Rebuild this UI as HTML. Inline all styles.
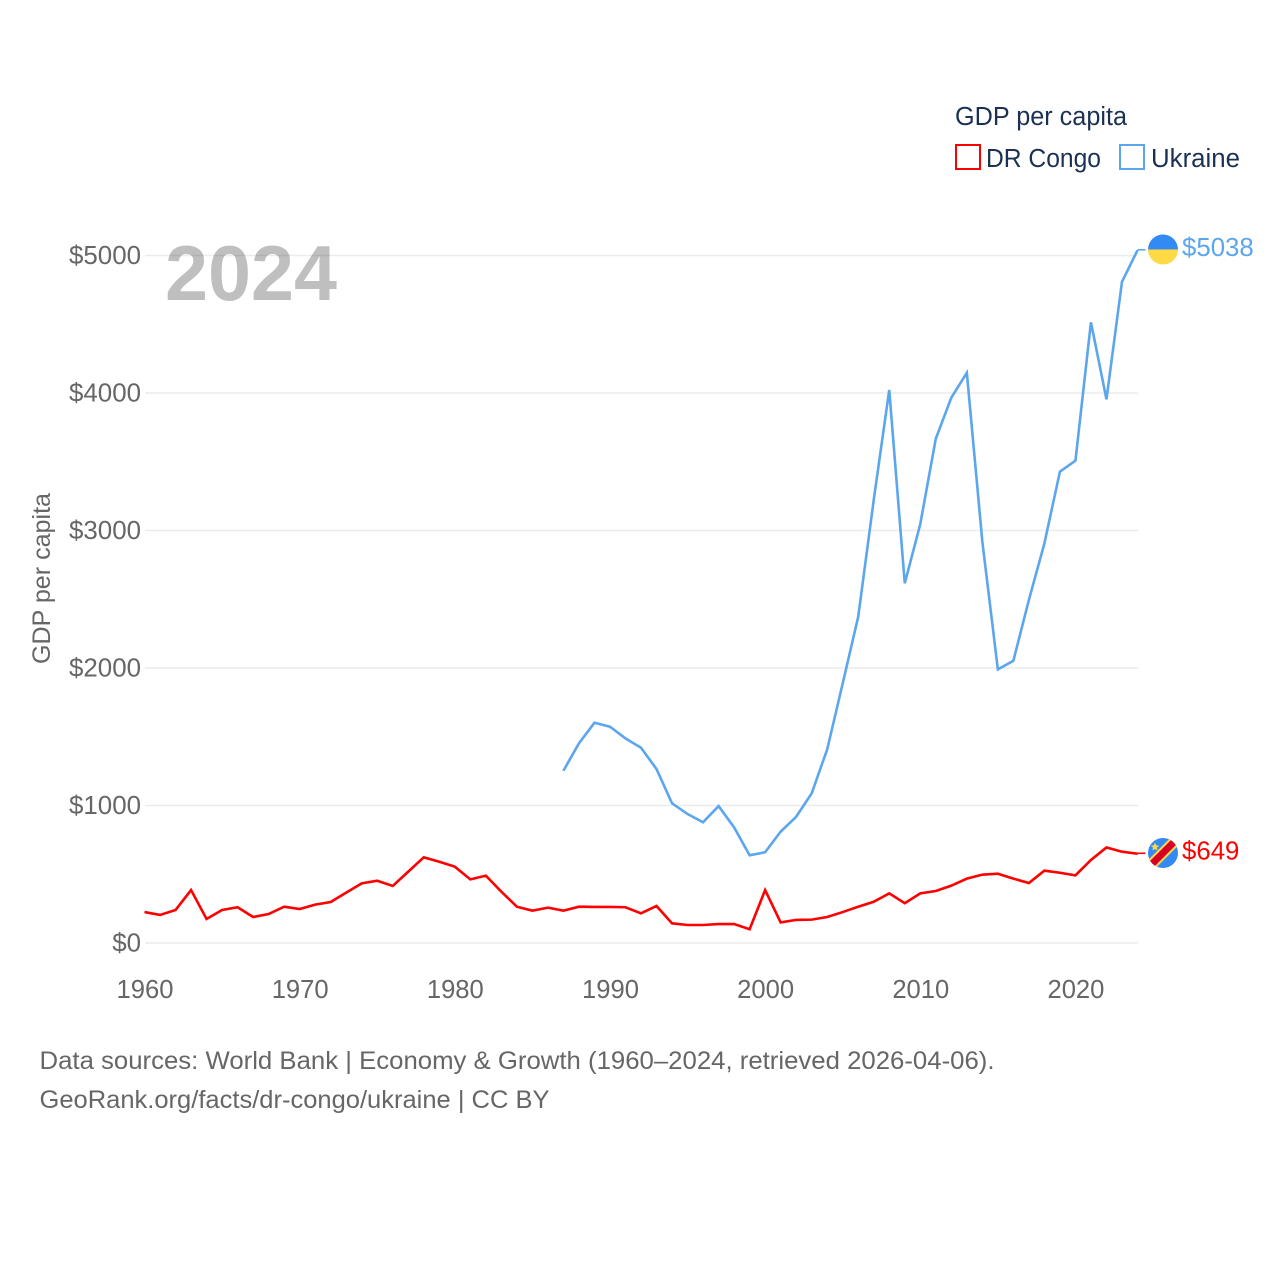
<!DOCTYPE html>
<html lang="en">
<head>
<meta charset="utf-8">
<title>GDP per capita: DR Congo and Ukraine</title>
<style>
html,body{margin:0;padding:0;background:#fff;}
svg{display:block;font-family:"Liberation Sans",Arial,sans-serif;}
</style>
</head>
<body>
<svg id="chart" xmlns="http://www.w3.org/2000/svg" width="1280" height="1280" viewBox="0 0 1280 1280">
  <defs>
    <clipPath id="ua-clip"><circle cx="0" cy="0" r="15"/></clipPath>
    <clipPath id="cd-clip"><circle cx="0" cy="0" r="15"/></clipPath>
  </defs>
  <rect width="1280" height="1280" fill="#fff"/>
  <g id="grid"></g>
  <text x="165" y="300" font-size="78" font-weight="700" fill="#000" fill-opacity="0.25" textLength="172" lengthAdjust="spacingAndGlyphs">2024</text>
  <g id="y-ticks"></g>
  <g id="x-ticks"></g>
  <text transform="translate(50 664) rotate(-90)" font-size="25" fill="#666" textLength="171" lengthAdjust="spacingAndGlyphs">GDP per capita</text>
  <g id="series"></g>
  <g id="end-markers"></g>

  <g>
    <text x="955" y="125" font-size="25.5" fill="#1b3153" textLength="172" lengthAdjust="spacingAndGlyphs">GDP per capita</text>
    <g>
      <rect x="956" y="145" width="24" height="24" fill="#fff" stroke="#ff0000" stroke-width="2"/>
      <text x="986" y="167" font-size="25.5" fill="#1b3153" textLength="115" lengthAdjust="spacingAndGlyphs">DR Congo</text>
    </g>
    <g>
      <rect x="1120" y="145" width="24" height="24" fill="#fff" stroke="#5ca6ee" stroke-width="2"/>
      <text x="1151" y="167" font-size="25.5" fill="#1b3153" textLength="89" lengthAdjust="spacingAndGlyphs">Ukraine</text>
    </g>
  </g>

  <text x="39.5" y="1069" font-size="25" fill="#666" textLength="955" lengthAdjust="spacingAndGlyphs">Data sources: World Bank | Economy &amp; Growth (1960–2024, retrieved 2026-04-06).</text>
  <a><text x="39.5" y="1108" font-size="25" fill="#666" textLength="510" lengthAdjust="spacingAndGlyphs">GeoRank.org/facts/dr-congo/ukraine | CC BY</text></a>
</svg>
<script>
// ---- data ----
var firstYear = 1960;
var lastYear = 2024;
var xTickYears = [1960, 1970, 1980, 1990, 2000, 2010, 2020];
var yTickValues = [0, 1000, 2000, 3000, 4000, 5000];
var drCongoValues = [225,204,240,385,175,240,260,189,211,264,247,279,298,366,434,453,415,519,623,591,555,463,490,373,264,235,257,235,264,262,262,260,216,269,143,131,131,138,138,100,385,150,168,170,189,225,264,300,361,289,361,378,417,468,497,504,468,436,526,511,492,604,695,664,649];
var ukraineValues = [null,null,null,null,null,null,null,null,null,null,null,null,null,null,null,null,null,null,null,null,null,null,null,null,null,null,null,1253,1452,1602,1573,1488,1420,1265,1016,938,878,996,841,638,660,810,918,1088,1408,1888,2373,3222,4022,2616,3047,3668,3966,4147,2919,1990,2053,2495,2907,3428,3508,4514,3954,4809,5038];

// ---- axis functions ----
var X0 = 144.5, X1 = 1137.5, Y0 = 943, Y1 = 255.5, VMAX = 5000;
function xScale(year){ return X0 + (year - firstYear) * (X1 - X0) / (lastYear - firstYear); }
function yScale(v){ return Y0 + v * (Y1 - Y0) / VMAX; }

var NS = 'http://www.w3.org/2000/svg';
function mk(parent, tag, attrs, text){
  var el = document.createElementNS(NS, tag);
  for (var k in attrs) el.setAttribute(k, attrs[k]);
  if (text !== undefined) el.textContent = text;
  parent.appendChild(el);
  return el;
}

var grid = document.getElementById('grid');
var yTicks = document.getElementById('y-ticks');
var xTicks = document.getElementById('x-ticks');
var seriesLayer = document.getElementById('series');
var markers = document.getElementById('end-markers');

yTickValues.forEach(function(v){
  var line = mk(grid, 'line', {x1:X0 + 0.5, x2:X1 + 0.5, y1:yScale(v), y2:yScale(v), stroke:'#ececec', 'stroke-width':1.6});
  
  
  var label = mk(yTicks, 'text', {x:141, y:yScale(v) + 8.5, 'text-anchor':'end', 'font-size':25.9, fill:'#666'}, '$' + v);
  
  
});

xTickYears.forEach(function(y){
  var label = mk(xTicks, 'text', {x:xScale(y) + 0.5, y:998, 'text-anchor':'middle', 'font-size':25.6, fill:'#666'}, String(y));
  
  
});

function drawSeries(values, color, key){
  var pts = [];
  values.forEach(function(v, i){
    if (v !== null) pts.push(xScale(firstYear + i).toFixed(2) + ',' + yScale(v).toFixed(2));
  });
  var line = mk(seriesLayer, 'polyline', {points:pts.join(' '), fill:'none', stroke:color, 'stroke-width':2.6, 'stroke-linejoin':'miter'});
  
  
  var lastV = values[values.length - 1];
  var ly = yScale(lastV);
  var conn = mk(markers, 'line', {x1:X1, x2:X1 + 8, y1:ly - 0.5, y2:ly - 0.5, stroke:color, 'stroke-width':1.6});
  
  
  var value = mk(markers, 'text', {x:1182, y:ly + 5.8, 'font-size':25.8, fill:color}, '$' + lastV);
  
  
  var flag = mk(markers, 'g', {transform:'translate(1163 ' + (ly - 0.8) + ')'});
  
  
  return flag;
}

var cd = drawSeries(drCongoValues, '#ff0000', 'dr-congo');
var cdg = mk(cd, 'g', {'clip-path':'url(#cd-clip)'});
mk(cdg, 'rect', {x:-15, y:-15, width:30, height:30, fill:'#338af3'});
mk(cdg, 'line', {x1:-18, y1:18, x2:18, y2:-18, stroke:'#ffda44', 'stroke-width':11});
mk(cdg, 'line', {x1:-18, y1:18, x2:18, y2:-18, stroke:'#d80027', 'stroke-width':7});
mk(cdg, 'polygon', {points:'-8,-10.5 -6.8,-7.6 -3.8,-7.4 -6.1,-5.4 -5.4,-2.5 -8,-4 -10.6,-2.5 -9.9,-5.4 -12.2,-7.4 -9.2,-7.6', fill:'#ffda44'});

var ua = drawSeries(ukraineValues, '#5ca6ee', 'ukraine');
var uag = mk(ua, 'g', {'clip-path':'url(#ua-clip)'});
mk(uag, 'rect', {x:-15, y:-15, width:30, height:15, fill:'#338af3'});
mk(uag, 'rect', {x:-15, y:0, width:30, height:15, fill:'#ffda44'});
</script>
</body>
</html>
